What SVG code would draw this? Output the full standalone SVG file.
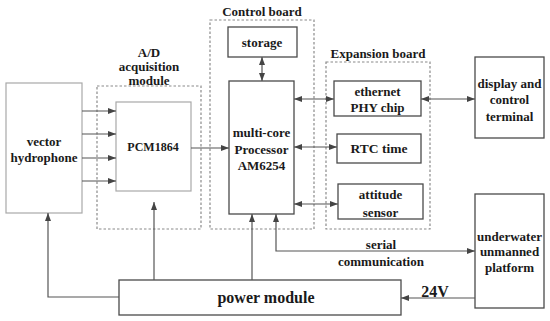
<svg xmlns="http://www.w3.org/2000/svg" width="550" height="321" viewBox="0 0 550 321">
<style>
text{font-family:"Liberation Serif","Times New Roman",serif;font-weight:bold;font-size:13px;fill:#1a1a1a;text-anchor:middle;dominant-baseline:central}
text.s12{font-size:12px}
text.s135{font-size:13.5px}
text.s16{font-size:16px}
.box{fill:#fff;stroke:#4a4a4a;stroke-width:1.3}
.lbox{fill:#fff;stroke:#a8a8a8;stroke-width:1.2}
.grp{fill:none;stroke:#8a8a8a;stroke-width:1.2;stroke-dasharray:2.5,2}
.c{fill:none;stroke:#555;stroke-width:1.2}
.e{marker-end:url(#ah)}
.b{marker-start:url(#ah);marker-end:url(#ah)}
</style>
<defs>
<marker id="ah" markerUnits="userSpaceOnUse" markerWidth="9" markerHeight="7" refX="8" refY="3" orient="auto-start-reverse">
<path d="M0,0 L8,3 L0,6 z" fill="#444"/>
</marker>
</defs>
<g id="ad-module">
<rect class="grp" x="97" y="86" width="104" height="143"/>
<text x="149" y="52.5">A/D</text>
<text x="149" y="66.5">acquisition</text>
<text x="149" y="80.5">module</text>
</g>
<g id="control-board">
<rect class="grp" x="210" y="20" width="104" height="209"/>
<text x="262" y="11">Control board</text>
</g>
<g id="expansion-board">
<rect class="grp" x="326" y="62" width="104" height="167"/>
<text x="378" y="53">Expansion board</text>
</g>
<g id="hydrophone">
<rect class="lbox" x="6" y="83" width="76" height="130"/>
<text x="44" y="141">vector</text>
<text x="44" y="157">hydrophone</text>
</g>
<g id="pcm">
<rect class="lbox" x="116" y="102" width="75" height="89"/>
<text class="s12" x="153" y="147">PCM1864</text>
</g>
<g id="storage">
<rect class="box" x="228" y="27" width="69" height="30"/>
<text x="262" y="42">storage</text>
</g>
<g id="processor">
<rect class="box" x="229" y="81" width="65" height="133"/>
<text x="261.5" y="132">multi-core</text>
<text x="261.5" y="149">Processor</text>
<text x="261.5" y="165">AM6254</text>
</g>
<g id="ethernet">
<rect class="box" x="334" y="81" width="87" height="35"/>
<text x="377.5" y="91">ethernet</text>
<text x="377.5" y="107">PHY chip</text>
</g>
<g id="rtc">
<rect class="box" x="337" y="134" width="84" height="29"/>
<text class="s135" x="379" y="148">RTC time</text>
</g>
<g id="attitude">
<rect class="box" x="338" y="184" width="85" height="35"/>
<text x="380.5" y="194">attitude</text>
<text x="380.5" y="212">sensor</text>
</g>
<g id="display">
<rect class="box" x="475" y="57" width="69" height="81"/>
<text x="509.5" y="83">display and</text>
<text x="509.5" y="99">control</text>
<text x="509.5" y="116">terminal</text>
</g>
<g id="platform">
<rect class="box" x="475" y="194" width="69" height="114"/>
<text x="509.5" y="236">underwater</text>
<text x="509.5" y="251">unmanned</text>
<text x="509.5" y="267">platform</text>
</g>
<g id="power">
<rect class="box" x="119" y="280" width="282" height="35"/>
<text class="s16" x="266" y="297">power module</text>
</g>
<g id="connectors">
<path class="c e" d="M82,111 H116"/>
<path class="c e" d="M82,134 H116"/>
<path class="c e" d="M82,158 H116"/>
<path class="c e" d="M82,181 H116"/>
<path class="c e" d="M191,148 H229"/>
<path class="c b" d="M262,57 V81"/>
<path class="c b" d="M294,99 H334"/>
<path class="c b" d="M421,99 H475"/>
<path class="c b" d="M294,147 H337"/>
<path class="c b" d="M294,204 H338"/>
<path class="c b" d="M276,214 V251 H475"/>
<path class="c e" d="M475,298 H401"/>
<path class="c e" d="M119,297 H48 V213"/>
<path class="c e" d="M154,280 V202"/>
<path class="c e" d="M252,280 V214"/>
<text x="381" y="244">serial</text>
<text x="381" y="261">communication</text>
<text class="s16" x="435" y="291">24V</text>
</g>
</svg>
